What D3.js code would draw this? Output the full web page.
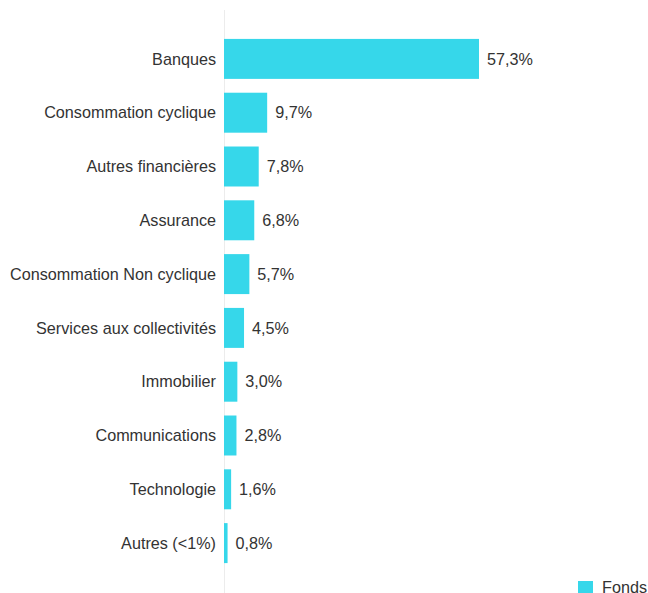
<!DOCTYPE html>
<html><head><meta charset="utf-8">
<script src="https://cdn.jsdelivr.net/npm/d3@7"></script>
<style>body{margin:0;background:#fff;}svg{display:block;font-family:"Liberation Sans",Arial,sans-serif;}</style>
</head><body>
<svg id="c" width="648" height="593"></svg>
<script>
const categories = ["Banques","Consommation cyclique","Autres financières","Assurance","Consommation Non cyclique","Services aux collectivités","Immobilier","Communications","Technologie","Autres (<1%)"];
const values = [57.3,9.7,7.8,6.8,5.7,4.5,3.0,2.8,1.6,0.8];
const seriesName = "Fonds";

const svg = d3.select("#c");
const x0 = 224;
const x = d3.scaleLinear().domain([0, 57.3]).range([x0, 479]);
const y = d3.scaleBand().domain(categories).range([32, 570]).paddingInner(0.257).paddingOuter(0.1285);
const color = "#36d7ea";

svg.append("line").attr("x1", x0+0.5).attr("x2", x0+0.5).attr("y1", 10).attr("y2", 593)
  .attr("stroke", "#ececec").attr("stroke-width", 1);

svg.selectAll("rect.bar").data(values).join("rect").attr("class","bar")
  .attr("x", x(0)).attr("y", (d,i)=>y(categories[i]))
  .attr("width", d=>x(d)-x(0)).attr("height", y.bandwidth()).attr("fill", color);

svg.selectAll("text.cat").data(categories).join("text").attr("class","cat")
  .attr("x", 216).attr("y", d=>y(d)+y.bandwidth()/2).attr("dy","0.35em")
  .attr("text-anchor","end").attr("font-size",16.2).attr("fill","#333").text(d=>d);

const fmt = v => v.toFixed(1).replace(".", ",") + "%";
svg.selectAll("text.val").data(values).join("text").attr("class","val")
  .attr("x", d=>x(d)+8).attr("y", (d,i)=>y(categories[i])+y.bandwidth()/2).attr("dy","0.35em")
  .attr("font-size",16.2).attr("fill","#333").text(fmt);

const lg = svg.append("g").attr("transform","translate(578,581)");
lg.append("rect").attr("width",15).attr("height",12).attr("fill",color);
lg.append("text").attr("x",24).attr("y",6).attr("dy","0.35em").attr("font-size",16.2).attr("fill","#333").text(seriesName);
</script>
</body></html>
